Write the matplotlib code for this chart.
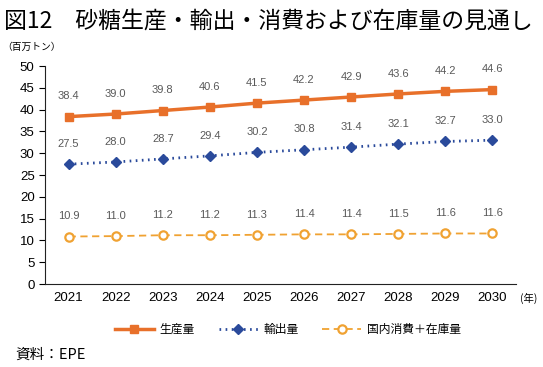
import matplotlib.pyplot as plt

plt.rcParams['font.family'] = ['Noto Sans CJK JP', 'DejaVu Sans']

years = [2021, 2022, 2023, 2024, 2025, 2026, 2027, 2028, 2029, 2030]
production = [38.4, 39.0, 39.8, 40.6, 41.5, 42.2, 42.9, 43.6, 44.2, 44.6]
exports = [27.5, 28.0, 28.7, 29.4, 30.2, 30.8, 31.4, 32.1, 32.7, 33.0]
consumption = [10.9, 11.0, 11.2, 11.2, 11.3, 11.4, 11.4, 11.5, 11.6, 11.6]

orange = "#E8702A"
blue = "#2A4A9B"
light_orange = "#F0A232"

fig = plt.figure(figsize=(5.43, 3.67), dpi=100)
ax = fig.add_axes([0.083, 0.226, 0.867, 0.594])

ax.plot(years, production, color=orange, lw=2.5, marker="s", ms=6, label="生産量")
ax.plot(years, exports, color=blue, lw=2, ls=(0, (0.6, 1.6)), marker="D", ms=5, label="輸出量")
ax.plot(years, consumption, color=light_orange, lw=1.3, ls=(0, (4, 2.5)), marker="o", ms=6,
        mfc="white", mew=1.6, label="国内消費＋在庫量")

for series in (production, exports, consumption):
    for x, v in zip(years, series):
        ax.annotate(f"{v:.1f}", (x, v), xytext=(0, 11), textcoords="offset points",
                    ha="center", va="bottom", fontsize=8, color="#595959",
                    family=["Liberation Sans", "DejaVu Sans"])

ax.set_xlim(2020.5, 2030.5)
ax.set_ylim(0, 50)
ax.set_yticks(range(0, 51, 5))
ax.set_xticks(years)
ax.tick_params(axis="x", length=0, labelsize=9.5, pad=6)
ax.tick_params(axis="y", length=4, labelsize=9.5, direction="out")
for lbl in ax.get_xticklabels() + ax.get_yticklabels():
    lbl.set_family(["Liberation Sans", "DejaVu Sans"])
for s in ("top", "right"):
    ax.spines[s].set_visible(False)
ax.spines["left"].set_color("#222222")
ax.spines["bottom"].set_color("#222222")

fig.text(0.008, 0.975, "図12　砂糖生産・輸出・消費および在庫量の見通し", fontsize=16.5, va="top")
fig.text(0.004, 0.872, "（百万トン）", fontsize=7, va="center")
fig.text(0.957, 0.188, "(年)", fontsize=7.5, va="center")
fig.text(0.028, 0.015, "資料：EPE", fontsize=10.5, va="bottom")

ax.legend(loc="upper center", bbox_to_anchor=(0.516, -0.13), ncol=3, frameon=False,
          fontsize=8.5, handlelength=3.3, columnspacing=2.0, handletextpad=0.5)

fig.savefig("out.png", dpi=100)
